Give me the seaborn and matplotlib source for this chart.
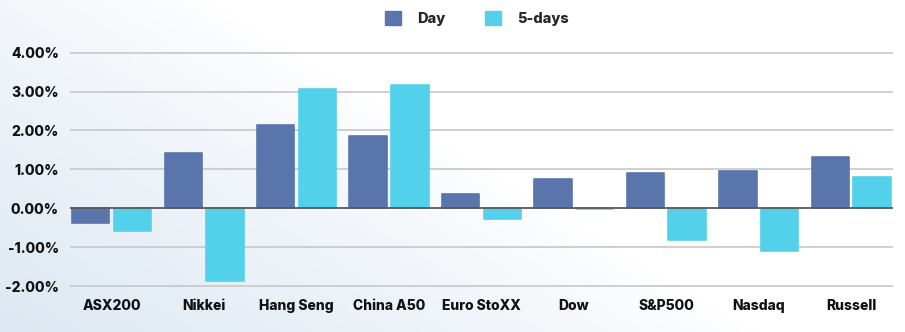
import numpy as np
import pandas as pd
import matplotlib
matplotlib.use("Agg")
import matplotlib.pyplot as plt
import seaborn as sns
from matplotlib.patches import Patch

categories = ["ASX200", "Nikkei", "Hang Seng", "China A50", "Euro StoXX",
              "Dow", "S&P500", "Nasdaq", "Russell"]
day_values = [-0.39, 1.42, 2.14, 1.87, 0.36, 0.75, 0.91, 0.96, 1.33]
five_day_values = [-0.58, -1.86, 3.06, 3.17, -0.27, -0.03, -0.81, -1.09, 0.81]
series_names = ["Day", "5-days"]
y_ticks = [-2, -1, 0, 1, 2, 3, 4]

df = pd.DataFrame({
    "Index": categories * 2,
    "Change": day_values + five_day_values,
    "Series": [series_names[0]] * len(categories) + [series_names[1]] * len(categories),
})

sns.set_theme(style="white")
plt.rcParams["font.family"] = ["Inter", "DejaVu Sans"]
plt.rcParams["font.weight"] = "heavy"

colors = {"Day": "#5975AC", "5-days": "#53D1EB"}

fig = plt.figure(figsize=(9.05, 3.32), dpi=100)

# background gradient
bg = fig.add_axes([0, 0, 1, 1], zorder=-10)
h, w = 100, 300
yy, xx = np.mgrid[0:h, 0:w]
xn = xx / (w - 1)
yn = yy / (h - 1)
t = np.clip(1.0 - (xn * 1.5 + (1 - yn) * 0.9) / 1.25, 0, 1) ** 0.8
c0 = np.array([1.0, 1.0, 1.0])
c1 = np.array([0.87, 0.91, 0.95])
img = c0[None, None, :] * (1 - t[..., None]) + c1[None, None, :] * t[..., None]
bg.imshow(img, aspect="auto", extent=[0, 1, 0, 1], origin="upper")
bg.set_axis_off()

ax = fig.add_axes([0.0773, 0.1325, 0.9094, 0.7146])
ax.patch.set_alpha(0)

sns.barplot(data=df, x="Index", y="Change", hue="Series", palette=colors,
            saturation=1, width=0.9, gap=0.1, ax=ax, legend=False, zorder=3)

for p in ax.patches:
    p.set_edgecolor(p.get_facecolor())
    p.set_linewidth(1.2)
    p.set_joinstyle("round")

ax.set_xlim(-0.45, 8.45)
ax.set_ylim(-2.05, 4.05)
ax.set_yticks(y_ticks)
ax.set_yticklabels([f"{v:.2f}%" for v in y_ticks])
for v in y_ticks:
    if v == 0:
        ax.axhline(v, color="#5a5a5a", lw=1.3, zorder=4)
    else:
        ax.axhline(v, color="#c9cbcd", lw=1.3, zorder=1)

for s in ax.spines.values():
    s.set_visible(False)
ax.set_xlabel("")
ax.set_ylabel("")
ax.tick_params(axis="y", length=0, pad=8, labelsize=10, labelcolor="#111111")
ax.tick_params(axis="x", length=0, pad=8, labelsize=10, labelcolor="#111111")
for lbl in ax.get_xticklabels() + ax.get_yticklabels():
    lbl.set_fontweight("heavy")

handles = [Patch(facecolor=colors[s], edgecolor=colors[s], label=s) for s in series_names]
leg = fig.legend(handles=handles, loc="center", bbox_to_anchor=(0.527, 0.945), ncol=2,
                 frameon=False, handlelength=1.1, handleheight=1.1, handletextpad=1.1,
                 columnspacing=2.7, prop={"weight": "heavy", "size": 10.5})

fig.savefig("out.png", dpi=100)
